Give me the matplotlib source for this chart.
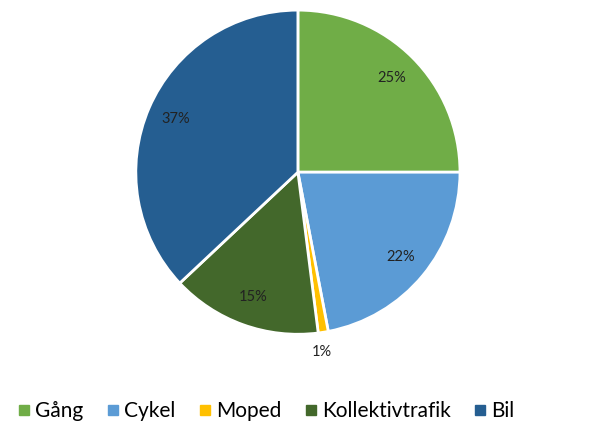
import matplotlib
matplotlib.use("Agg")
import matplotlib.pyplot as plt
from matplotlib.lines import Line2D

labels = ["Gång", "Cykel", "Moped", "Kollektivtrafik", "Bil"]
shares = [25, 22, 1, 15, 37]
colors = ["#70AD47", "#5B9BD5", "#FFC000", "#43682B", "#255E91"]

plt.rcParams["font.family"] = ["Lato", "DejaVu Sans"]

fig = plt.figure(figsize=(5.97, 4.21), dpi=100)
ax = fig.add_axes([0.2275, 0.206, 0.543, 0.77])

wedges, texts, autotexts = ax.pie(
    shares,
    colors=colors,
    startangle=90,
    counterclock=False,
    autopct="%1.0f%%",
    pctdistance=0.82,
    wedgeprops=dict(edgecolor="white", linewidth=2),
    textprops=dict(fontsize=10.5, color="#222222"),
)
ax.set_xlim(-1, 1)
ax.set_ylim(-1, 1)
ax.set_aspect("equal")

# the small Moped slice gets its label outside
autotexts[2].set_position((0.15, -1.11))

handles = [Line2D([], [], marker="s", linestyle="none", markersize=7.5,
                  markerfacecolor=c, markeredgecolor=c) for c in colors]
fig.legend(handles, labels, loc="center", bbox_to_anchor=(0.444, 0.024),
           ncol=5, frameon=False, fontsize=15, handletextpad=0.15,
           columnspacing=1.0, handlelength=0.8)

fig.savefig("out.png", dpi=100)
